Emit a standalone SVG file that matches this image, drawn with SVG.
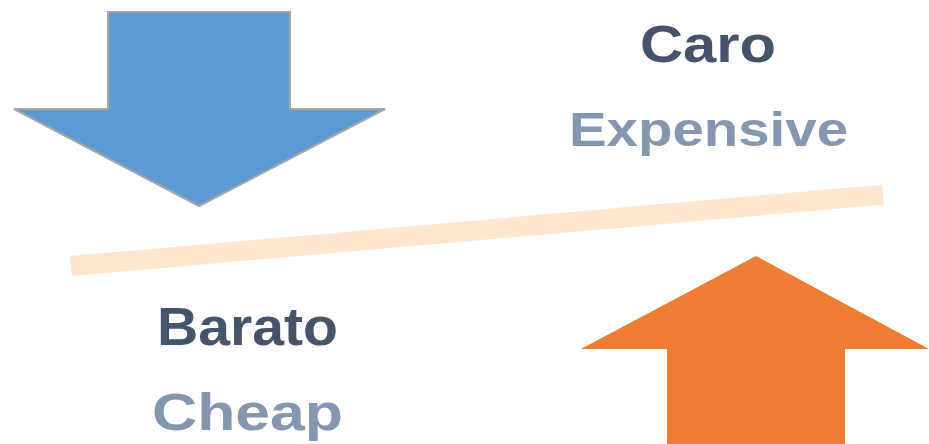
<svg xmlns="http://www.w3.org/2000/svg" width="929" height="444" viewBox="0 0 929 444">
  <style>
    .t { font-family: "Liberation Sans", Arial, sans-serif; font-weight: bold; font-size: 52px; }
    .dark { fill: #44546A; }
    .light { fill: #8497B0; }
  </style>
  <rect x="0" y="0" width="929" height="444" fill="#FFFFFF"/>
  <g id="connectors">
    <line x1="71" y1="266" x2="883" y2="194.7" stroke="#FEE7CE" stroke-width="20"/>
  </g>
  <g id="arrow-down">
    <polygon points="108,12 290,12 290,109 385,109 199,206 14,109 108,109" fill="#5B9BD5" stroke="#A5A5A5" stroke-width="2"/>
  </g>
  <g id="arrow-up">
    <polygon points="756,256 929,349 845,349 845,444 667,444 667,349 581,349" fill="#ED7D31"/>
  </g>
  <g id="caro">
    <text class="t dark" x="640" y="62" textLength="136" lengthAdjust="spacingAndGlyphs">Caro</text>
    <text class="t light" x="569" y="146" font-size="48" style="font-size:48px" textLength="279" lengthAdjust="spacingAndGlyphs">Expensive</text>
  </g>
  <g id="barato">
    <text class="t dark" x="157" y="345" style="font-size:53px" textLength="181" lengthAdjust="spacingAndGlyphs">Barato</text>
    <text class="t light" x="152" y="430" textLength="191" lengthAdjust="spacingAndGlyphs">Cheap</text>
  </g>
</svg>
